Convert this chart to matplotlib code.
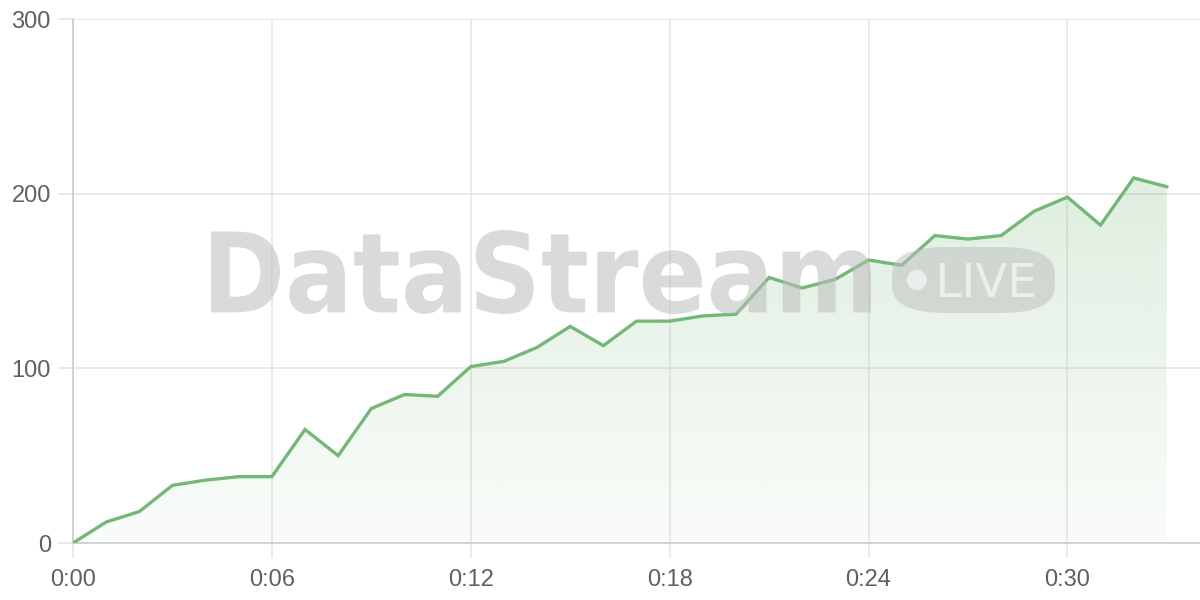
import numpy as np
import matplotlib.pyplot as plt
from matplotlib.patches import FancyBboxPatch, PathPatch, Circle
from matplotlib.textpath import TextPath
from matplotlib.font_manager import FontProperties
from matplotlib.transforms import Affine2D, IdentityTransform

# minutes since start and the running count
minutes = list(range(34))
values = [0, 12, 18, 33, 36, 38, 38, 65, 50, 77, 85, 84, 101, 104, 112, 124,
          113, 127, 127, 130, 131, 152, 146, 151, 162, 159, 176, 174, 176,
          190, 198, 182, 209, 204]
x_ticks = [0, 6, 12, 18, 24, 30]
x_labels = ["0:00", "0:06", "0:12", "0:18", "0:24", "0:30"]
y_ticks = [0, 100, 200, 300]

line_color = "#74b877"
grid_color = "#e6e6e6"
text_color = "#606060"

plt.rcParams['font.family'] = ['Liberation Sans', 'DejaVu Sans']

W, H = 1200, 600
fig = plt.figure(figsize=(12, 6), dpi=100)
ax = fig.add_axes([73 / W, 1 - 543 / H, 1 - 73 / W, (543 - 19) / H])

ax.set_xlim(0, 34)
ax.set_ylim(0, 300)

# gradient fill under the line, clipped to the area polygon
poly = ax.fill_between(minutes, values, 0, color="none", lw=0)
grad = np.linspace(0.04, 0.24, 256).reshape(-1, 1)
rgba = np.zeros((256, 1, 4))
rgba[..., 0] = 0x77 / 255
rgba[..., 1] = 0xb9 / 255
rgba[..., 2] = 0x7a / 255
rgba[..., 3] = grad
img = ax.imshow(rgba, extent=[0, 34, 0, max(values)], origin="lower",
                aspect="auto", zorder=1)
img.set_clip_path(poly.get_paths()[0], transform=ax.transData)

ax.plot(minutes, values, color=line_color, lw=2.4, zorder=3,
        solid_joinstyle="miter")

ax.set_xticks(x_ticks)
ax.set_xticklabels(x_labels)
ax.set_yticks(y_ticks)
ax.grid(True, color=grid_color, lw=1.2, zorder=0)
ax.set_axisbelow(True)
ax.tick_params(colors=grid_color, length=11, width=1.2, labelcolor=text_color,
               labelsize=17)
ax.tick_params(axis="x", pad=8)
ax.tick_params(axis="y", pad=5)
for side in ["top", "right"]:
    ax.spines[side].set_visible(False)
for side in ["left", "bottom"]:
    ax.spines[side].set_color("#cccccc")
    ax.spines[side].set_linewidth(1.2)


def boxed_text(s, x0, y0, x1, y1, weight, color, alpha, z):
    # text squeezed into a pixel box (top-left origin), for the condensed look
    tp = TextPath((0, 0), s, size=100,
                  prop=FontProperties(family="DejaVu Sans", weight=weight))
    bb = tp.get_extents()
    sx = (x1 - x0) / bb.width
    sy = (y1 - y0) / bb.height
    tr = (Affine2D().translate(-bb.x0, -bb.y0).scale(sx, sy)
          .translate(x0, H - y1))
    patch = PathPatch(tr.transform_path(tp), facecolor=color, edgecolor="none",
                      alpha=alpha, transform=IdentityTransform(), zorder=z)
    fig.patches.append(patch)


# watermark on top of the chart
boxed_text("DataStream", 211, 230, 871, 314, "bold", "#bdbdbd", 0.55, 10)
pill = FancyBboxPatch((892 / W, 1 - 313 / H), 163 / W, 66 / H,
                      boxstyle="round,pad=0,rounding_size=0.045",
                      transform=fig.transFigure, facecolor="#bdbdbd",
                      alpha=0.5, edgecolor="none", zorder=10)
fig.patches.append(pill)
fig.patches.append(Circle((917, H - 280), 10, transform=IdentityTransform(),
                          facecolor="white", alpha=0.6, edgecolor="none",
                          zorder=11))
boxed_text("LIVE", 940, 263, 1034, 297, "normal", "white", 0.6, 11)

fig.savefig("out.png", dpi=100)
